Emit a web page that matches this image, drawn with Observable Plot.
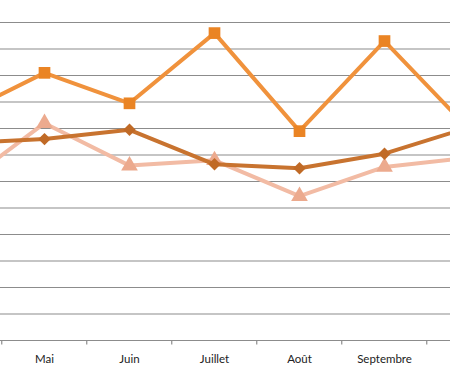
<!DOCTYPE html>
<html>
<head>
<meta charset="utf-8">
<script src="https://cdn.jsdelivr.net/npm/d3@7"></script>
<script src="https://cdn.jsdelivr.net/npm/@observablehq/plot@0.6"></script>
<style>
  html, body { margin: 0; padding: 0; background: #fff; overflow: hidden; }
  #chart svg { display: block; overflow: hidden; }
</style>
</head>
<body>
<div id="chart"></div>
<script>
// Categories (first and last are partially cut off in the reference view)
const months = ["Avril", "Mai", "Juin", "Juillet", "Août", "Septembre", "Octobre"];
// Series values
const serieA = [8.5, 10.1, 8.95, 11.6, 7.9, 11.3, 7.95];   // orange, squares
const serieB = [7.45, 7.6, 7.95, 6.65, 6.5, 7.05, 8.05];   // dark orange, diamonds
const serieC = [5.8, 8.2, 6.6, 6.8, 5.45, 6.55, 6.9];      // peach, triangles
const gridValues = [0, 1, 2, 3, 4, 5, 6, 7, 8, 9, 10, 11, 12];
const shownLabels = ["Mai", "Juin", "Juillet", "Août", "Septembre"];

const mk = (vals) => months.map((m, i) => ({month: m, value: vals[i]}));
const dA = mk(serieA), dB = mk(serieB), dC = mk(serieC);

const W = 450, H = 383;
const step = 85.5;

const chart = Plot.plot({
  width: W,
  height: H,
  marginTop: 22,
  marginBottom: 43,
  marginLeft: 0,
  marginRight: 0,
  style: {background: "#fff", fontFamily: "Lato, 'Open Sans', sans-serif"},
  x: {type: "point", domain: months, range: [-step / 2, -step / 2 + (months.length - 1) * step], padding: 0, axis: null},
  y: {domain: [0, 12], range: [340, 22], axis: null},
  marks: [
    Plot.ruleY(gridValues, {stroke: "#8c8c8c", strokeWidth: 1.2}),
    Plot.ruleX(months, {x: d => d, dx: -step / 2, y1: 0, y2: -0.17, stroke: "#8c8c8c", strokeWidth: 1.2}),
    Plot.text(shownLabels, {x: d => d, y: 0, dy: 19, text: d => d, fill: "#222", fontSize: 11.5}),
    Plot.line(dC, {x: "month", y: "value", stroke: "#F2BBA4", strokeWidth: 4}),
    Plot.dot(dC, {x: "month", y: "value", symbol: "triangle", r: 6.2, fill: "#ECAA8E", stroke: "none"}),
    Plot.line(dB, {x: "month", y: "value", stroke: "#C8732F", strokeWidth: 4}),
    Plot.dot(dB, {x: "month", y: "value", symbol: "diamond2", r: 5.6, fill: "#C06A26", stroke: "none"}),
    Plot.line(dA, {x: "month", y: "value", stroke: "#F0923C", strokeWidth: 4}),
    Plot.dot(dA, {x: "month", y: "value", symbol: "square", r: 6.6, fill: "#EA8424", stroke: "none"})
  ]
});
document.getElementById("chart").appendChild(chart);
</script>
</body>
</html>
